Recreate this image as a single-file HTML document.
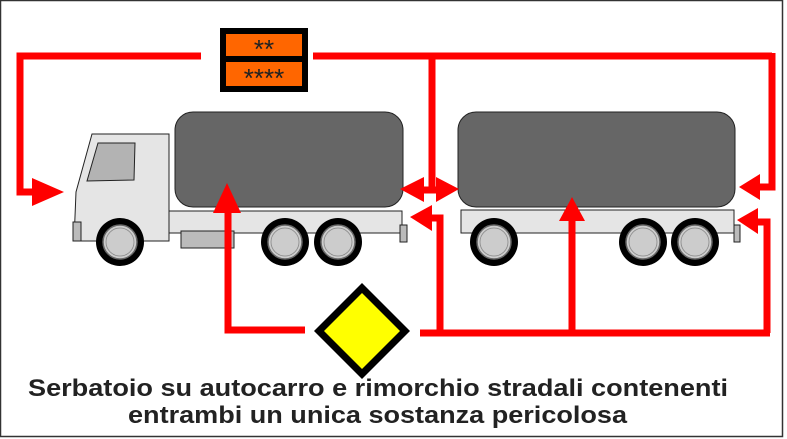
<!DOCTYPE html>
<html><head><meta charset="utf-8"><style>
html,body{margin:0;padding:0;background:#fff;}
svg{display:block;}
</style></head><body>
<svg width="787" height="439" viewBox="0 0 787 439" xmlns="http://www.w3.org/2000/svg">
<rect x="0.5" y="0.5" width="782" height="436" fill="#fff" stroke="#333" stroke-width="1.5"/>
<!-- Truck -->
<polygon points="92,134 169,134 169,241 74,241 76,192" fill="#e5e5e5" stroke="#222" stroke-width="1"/>
<polygon points="98,143 135,143 134,180 87,181" fill="#b3b3b3" stroke="#222" stroke-width="1"/>
<rect x="73" y="222" width="8" height="19" fill="#bbb" stroke="#222"/>
<rect x="169" y="211" width="233" height="22" fill="#e5e5e5" stroke="#222"/>
<rect x="181" y="231" width="53" height="17" fill="#bbb" stroke="#222"/>
<rect x="400" y="225" width="7" height="17" fill="#bbb" stroke="#222"/>
<rect x="175" y="112" width="228" height="95" rx="18" fill="#666" stroke="#222"/>
<!-- Trailer -->
<rect x="461" y="210" width="273" height="23" fill="#e5e5e5" stroke="#222"/>
<rect x="734" y="225" width="6" height="17" fill="#bbb" stroke="#222"/>
<rect x="458" y="112" width="277" height="95" rx="18" fill="#666" stroke="#222"/>
<g fill="#000"><circle cx="120" cy="242" r="24"/><circle cx="285" cy="242" r="24"/><circle cx="338" cy="242" r="24"/>
<circle cx="494" cy="242" r="24"/><circle cx="643" cy="242" r="24"/><circle cx="695" cy="242" r="24"/></g>
<g fill="#ccc" stroke="#666" stroke-width="1.5"><circle cx="120" cy="242" r="17"/><circle cx="285" cy="242" r="17"/><circle cx="338" cy="242" r="17"/>
<circle cx="494" cy="242" r="17"/><circle cx="643" cy="242" r="17"/><circle cx="695" cy="242" r="17"/></g>
<g fill="none" stroke="#888" stroke-width="0.8"><circle cx="120" cy="242" r="14"/><circle cx="285" cy="242" r="14"/><circle cx="338" cy="242" r="14"/>
<circle cx="494" cy="242" r="14"/><circle cx="643" cy="242" r="14"/><circle cx="695" cy="242" r="14"/></g>
<!-- Placard -->
<rect x="220" y="28" width="88" height="64" fill="#000"/>
<rect x="226" y="34" width="76" height="22" fill="#f60"/>
<rect x="226" y="62" width="76" height="24" fill="#f60"/>
<text x="264" y="58" font-family="Liberation Sans, sans-serif" font-size="26" text-anchor="middle" fill="#222">**</text>
<text x="264" y="87" font-family="Liberation Sans, sans-serif" font-size="26" text-anchor="middle" fill="#222">****</text>
<!-- Red connectors -->
<g stroke="#f00" stroke-width="7" fill="none">
<polyline points="201,56 20,56 20,192 40,192"/>
<line x1="313" y1="56" x2="772" y2="56"/>
<line x1="432" y1="53" x2="432" y2="190"/>
<polyline points="772,53 772,187 755,187"/>
<line x1="418" y1="190" x2="442" y2="190"/>
<polyline points="425,218 440,218 440,333"/>
<line x1="420" y1="333" x2="770" y2="333"/>
<line x1="572" y1="212" x2="572" y2="333"/>
<polyline points="753,222 767,222 767,333"/>
<polyline points="228,198 228,330 305,330"/>
</g>
<g fill="#f00">
<polygon points="64,192 32,178 32,206"/>
<polygon points="739,187 760,174 760,200"/>
<polygon points="400,189 424,177 424,202"/>
<polygon points="459,189 436,177 436,202"/>
<polygon points="410,217 432,205 432,231"/>
<polygon points="572,197 559,221 585,221"/>
<polygon points="737,220 758,208 758,234"/>
<polygon points="227,183 213,213 241,213"/>
</g>
<!-- Diamond -->
<polygon points="362,283 410,331 362,379 314,331" fill="#000"/>
<polygon points="362,293 400,331 362,369 324,331" fill="#ff0"/>
<!-- Caption -->
<g font-family="Liberation Sans, sans-serif" font-weight="bold" font-size="24" fill="#222">
<text x="28" y="396" textLength="700" lengthAdjust="spacingAndGlyphs">Serbatoio su autocarro e rimorchio stradali contenenti</text>
<text x="128" y="423" textLength="499" lengthAdjust="spacingAndGlyphs">entrambi un unica sostanza pericolosa</text>
</g>
</svg>
</body></html>
